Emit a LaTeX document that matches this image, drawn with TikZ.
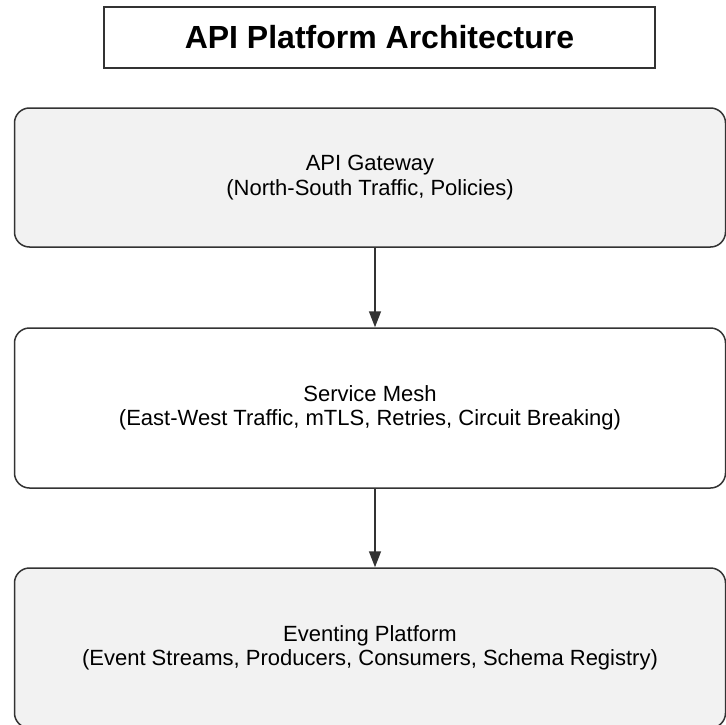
\documentclass[tikz,border=0pt]{standalone}
\usepackage{fontspec}
\setmainfont{Liberation Sans}
\usetikzlibrary{positioning, calc, arrows.meta}

\definecolor{layergray}{HTML}{F2F2F2}
\definecolor{edgegray}{HTML}{333333}

\begin{document}
\begin{tikzpicture}[
  x=1pt, y=-1pt,
  ttl/.style     = {draw=edgegray, line width=1.5pt, fill=white,
                    minimum width=551pt, minimum height=61pt,
                    font=\fontsize{32}{36}\selectfont\bfseries},
  layer/.style   = {draw=edgegray, line width=1.5pt, rounded corners=15pt,
                    align=center, minimum width=711pt,
                    font=\fontsize{22}{24.5}\selectfont},
  arr/.style     = {-{Triangle[length=16pt, width=12pt]}, line width=1.5pt,
                    draw=edgegray},
]
\useasboundingbox (0,0) rectangle (725,725);

% ---- title ------------------------------------------------------------------
\node[ttl] (title) at (379.5,37.5) {API Platform Architecture};

% ---- layers -----------------------------------------------------------------
\node[layer, fill=layergray, minimum height=139pt] (gw) at (370,177.5)
  {API Gateway\\(North-South Traffic, Policies)};
\node[layer, fill=white, minimum height=160pt] (mesh) at (370,408)
  {Service Mesh\\(East-West Traffic, mTLS, Retries, Circuit Breaking)};
\node[layer, fill=layergray, minimum height=160pt] (evt) at (370,648)
  {Eventing Platform\\(Event Streams, Producers, Consumers, Schema Registry)};

% gateway -> mesh -> eventing
\draw[arr] ([xshift=5pt]gw.south) -- ([xshift=5pt]mesh.north);
\draw[arr] ([xshift=5pt]mesh.south) -- ([xshift=5pt]evt.north);

\end{tikzpicture}
\end{document}
